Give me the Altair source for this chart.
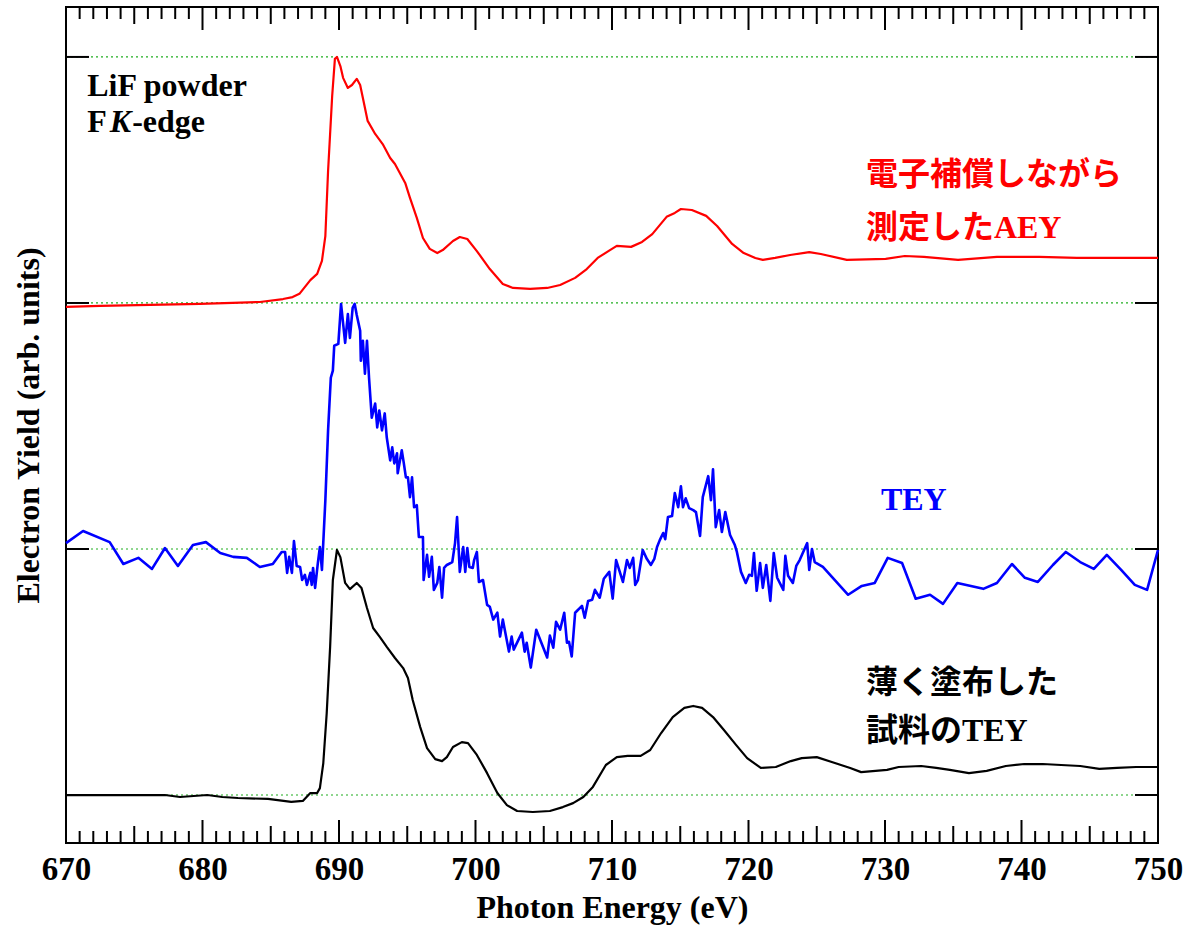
import altair as alt
import pandas as pd

# ---------------- data ----------------
# AEY (red), normalised 0..1, drawn with offset 2
red_ev = [670.0, 672.5, 676.15, 679.8, 682.2, 684.2, 685.9, 686.6, 687.1, 687.9,
          688.4, 688.75, 689.0, 689.2, 689.5, 689.7, 689.85, 690.1, 690.3, 690.65,
          690.95, 691.3, 691.55, 691.75, 692.1, 692.65, 693.2, 693.75, 694.1, 694.85,
          695.2, 695.7, 696.15, 696.65, 697.2, 697.6, 698.35, 698.85, 699.4, 700.1,
          701.05, 702.0, 702.75, 704.0, 705.25, 706.2, 707.3, 708.15, 708.95, 709.85,
          710.35, 711.4, 712.2, 712.95, 714.0, 714.6, 715.05, 715.85, 716.9, 717.7,
          718.8, 719.65, 720.5, 721.05, 721.95, 723.05, 724.45, 725.3, 727.2, 730.05,
          731.45, 732.85, 735.35, 738.2, 741.3, 744.05, 746.6, 750.0]
red_val = [-0.016, -0.012, -0.008, -0.004, 0.0, 0.004, 0.016, 0.024, 0.037, 0.093,
           0.118, 0.171, 0.272, 0.537, 0.841, 0.992, 1.0, 0.963, 0.915, 0.874,
           0.886, 0.911, 0.886, 0.833, 0.740, 0.687, 0.646, 0.589, 0.565, 0.488,
           0.427, 0.346, 0.264, 0.220, 0.203, 0.215, 0.252, 0.268, 0.260, 0.211,
           0.138, 0.077, 0.061, 0.057, 0.061, 0.073, 0.102, 0.138, 0.183, 0.215,
           0.232, 0.228, 0.248, 0.280, 0.350, 0.366, 0.382, 0.378, 0.354, 0.313,
           0.240, 0.203, 0.183, 0.175, 0.183, 0.195, 0.207, 0.199, 0.175, 0.179,
           0.191, 0.187, 0.175, 0.187, 0.187, 0.183, 0.183, 0.183]

# TEY (blue), offset 1
blue_ev = [670.0, 671.25, 673.2, 674.2, 675.3, 676.3, 677.25, 678.2, 679.3, 680.25,
           681.3, 682.25, 683.25, 684.2, 685.15, 685.8, 686.05, 686.2, 686.35, 686.55,
           686.7, 686.9, 687.15, 687.3, 687.5, 687.65, 687.9, 688.0, 688.1, 688.25,
           688.45, 688.6, 688.75, 689.0, 689.2, 689.4, 689.55, 689.65, 689.95, 690.15,
           690.45, 690.65, 690.8, 691.0, 691.15, 691.3, 691.55, 691.6, 691.75, 691.9,
           692.05, 692.2, 692.4, 692.65, 692.8, 692.95, 693.15, 693.35, 693.5, 693.75,
           693.9, 694.05, 694.25, 694.3, 694.6, 694.75, 694.9, 695.05, 695.2, 695.35,
           695.5, 695.7, 695.85, 696.15, 696.2, 696.45, 696.6, 696.8, 696.95, 697.2,
           697.35, 697.55, 697.7, 697.9, 698.3, 698.5, 698.65, 698.85, 699.1, 699.25,
           699.4, 699.55, 699.8, 699.9, 700.1, 700.25, 700.55, 700.85, 701.05, 701.3,
           701.6, 701.8, 702.0, 702.45, 702.65, 702.8, 703.4, 703.6, 703.75, 704.05,
           704.45, 705.25, 705.45, 705.7, 705.9, 706.2, 706.5, 706.7, 706.85, 707.05,
           707.3, 707.8, 708.0, 708.25, 708.55, 708.75, 709.1, 709.4, 709.8, 710.05,
           710.3, 710.8, 711.1, 711.3, 711.55, 711.7, 711.9, 712.25, 712.55, 712.85,
           713.1, 713.3, 713.5, 713.75, 713.9, 714.1, 714.4, 714.6, 714.85, 715.05,
           715.2, 715.4, 715.65, 715.95, 716.15, 716.45, 716.65, 717.05, 717.25, 717.4,
           717.6, 717.85, 718.05, 718.3, 718.65, 719.0, 719.15, 719.45, 719.8, 720.05,
           720.25, 720.4, 720.6, 720.85, 721.05, 721.3, 721.6, 721.85, 722.1, 722.55,
           722.7, 722.9, 723.25, 723.5, 723.75, 724.3, 724.45, 724.65, 724.85, 725.45,
           727.3, 728.3, 729.25, 730.2, 731.25, 732.25, 733.3, 734.25, 735.3, 737.2,
           738.2, 739.3, 740.25, 741.2, 742.3, 743.25, 744.3, 745.3, 746.25, 747.3,
           748.3, 749.2, 750.0]
blue_val = [0.024, 0.073, 0.028, -0.061, -0.036, -0.081, 0.004, -0.069, 0.016, 0.028,
            -0.016, -0.032, -0.036, -0.073, -0.061, -0.012, -0.012, -0.097, -0.032, -0.097,
            0.032, -0.069, -0.073, -0.126, -0.105, -0.146, -0.097, -0.146, -0.077, -0.158,
            -0.057, 0.008, -0.085, 0.198, 0.482, 0.696, 0.725, 0.826, 0.834, 0.996,
            0.838, 0.955, 0.858, 0.980, 0.996, 0.951, 0.887, 0.765, 0.846, 0.713,
            0.846, 0.696, 0.534, 0.591, 0.494, 0.563, 0.482, 0.551, 0.453, 0.360,
            0.413, 0.348, 0.389, 0.308, 0.401, 0.348, 0.291, 0.291, 0.211, 0.291,
            0.170, 0.178, 0.049, 0.049, -0.126, -0.024, -0.113, -0.032, -0.166, -0.138,
            -0.073, -0.198, -0.077, -0.065, -0.053, 0.024, 0.130, -0.093, 0.008, -0.093,
            0.004, -0.073, -0.077, -0.045, -0.012, -0.134, -0.126, -0.227, -0.235, -0.287,
            -0.259, -0.356, -0.287, -0.417, -0.356, -0.409, -0.340, -0.417, -0.381, -0.482,
            -0.328, -0.441, -0.352, -0.401, -0.296, -0.328, -0.259, -0.381, -0.377, -0.437,
            -0.259, -0.231, -0.279, -0.211, -0.206, -0.166, -0.198, -0.121, -0.093, -0.202,
            -0.045, -0.134, -0.045, -0.077, -0.036, -0.146, -0.126, -0.004, -0.040, -0.065,
            -0.040, 0.008, 0.036, 0.065, 0.040, 0.130, 0.134, 0.227, 0.170, 0.255,
            0.170, 0.206, 0.166, 0.158, 0.150, 0.053, 0.211, 0.296, 0.198, 0.324,
            0.089, 0.158, 0.069, 0.150, 0.057, 0.016, -0.012, -0.093, -0.138, -0.105,
            -0.109, -0.016, -0.170, -0.057, -0.158, -0.065, -0.211, -0.016, -0.117, -0.166,
            -0.028, -0.109, -0.138, -0.069, -0.045, 0.024, -0.085, 0.0, -0.053, -0.073,
            -0.186, -0.150, -0.138, -0.036, -0.057, -0.202, -0.186, -0.223, -0.138, -0.162,
            -0.138, -0.061, -0.117, -0.134, -0.065, -0.012, -0.053, -0.081, -0.024, -0.085,
            -0.146, -0.166, -0.004]

# TEY of thinly coated sample (black), offset 0
black_ev = [670.0, 673.6, 675.85, 677.25, 678.35, 680.35, 681.45, 682.6, 684.8, 686.5,
            687.35, 687.9, 688.4, 688.6, 688.85, 689.1, 689.35, 689.55, 689.85, 690.1,
            690.45, 690.8, 691.3, 691.65, 692.05, 692.5, 693.0, 693.5, 694.1, 694.7,
            695.05, 695.4, 695.95, 696.45, 697.05, 697.55, 697.9, 698.35, 699.0, 699.45,
            700.1, 700.85, 701.6, 702.3, 703.05, 704.2, 705.45, 706.4, 707.15, 707.9,
            708.6, 709.55, 710.35, 711.15, 712.1, 712.8, 713.6, 714.45, 715.3, 715.95,
            716.6, 717.4, 718.2, 719.1, 719.9, 720.9, 722.0, 723.1, 723.9, 725.0,
            726.1, 727.45, 728.25, 730.15, 731.0, 732.65, 733.75, 734.75, 736.15, 737.45,
            738.85, 740.2, 741.55, 742.9, 744.3, 745.7, 747.0, 748.4, 750.0]
black_val = [0.0, 0.0, 0.0, 0.0, -0.008, 0.0, -0.008, -0.012, -0.016, -0.028,
             -0.024, 0.008, 0.008, 0.028, 0.130, 0.333, 0.602, 0.874, 0.996, 0.967,
             0.862, 0.837, 0.862, 0.841, 0.760, 0.679, 0.642, 0.602, 0.557, 0.516,
             0.476, 0.386, 0.276, 0.191, 0.146, 0.138, 0.154, 0.195, 0.215, 0.211,
             0.163, 0.089, 0.008, -0.041, -0.065, -0.069, -0.065, -0.049, -0.033, -0.008,
             0.033, 0.122, 0.154, 0.159, 0.159, 0.183, 0.252, 0.317, 0.354, 0.362,
             0.354, 0.317, 0.264, 0.203, 0.150, 0.110, 0.114, 0.138, 0.150, 0.154,
             0.134, 0.110, 0.093, 0.102, 0.114, 0.118, 0.110, 0.102, 0.089, 0.098,
             0.118, 0.126, 0.126, 0.122, 0.118, 0.106, 0.110, 0.114, 0.114]

offsets = {"black": 0, "blue": 1, "red": 2}
baselines = [0, 1, 2, 3]
x_labels = [670, 680, 690, 700, 710, 720, 730, 740, 750]
minor_ticks = [v for v in range(670, 751) if v % 5 != 0]
mid_ticks = [v for v in range(670, 751) if v % 5 == 0 and v % 10 != 0]
major_ticks = [v for v in range(670, 751) if v % 10 == 0]

# annotation texts
ann_black = {"text": ["LiF powder", "F", "-edge", "薄く塗布した", "試料のTEY"],
             "x": [671.55, 671.55, 674.85, 728.6, 728.6],
             "y": [2.882, 2.736, 2.736, 0.455, 0.26]}
ann_italic = {"text": ["K"], "x": [673.2], "y": [2.736]}
ann_red = {"text": ["電子補償しながら", "測定したAEY"], "x": [728.6, 728.6], "y": [2.52, 2.305]}
ann_blue = {"text": ["TEY"], "x": [729.7], "y": [1.199]}

# ---------------- chart ----------------
W, H = 1092, 836
SERIF = "Liberation Serif"
JP = "Liberation Serif, Noto Sans CJK JP"

xs = alt.Scale(domain=[670, 750], nice=False, zero=False)
ys = alt.Scale(domain=[-0.195, 3.203], nice=False, zero=False)

x_axis = alt.Axis(values=x_labels, format="d", ticks=False, domain=False, grid=False,
                  labelFlush=False, labelOverlap=False, labelBound=False,
                  labelFont=SERIF, labelFontSize=33, labelFontWeight="bold",
                  labelColor="black", labelPadding=10,
                  title="Photon Energy (eV)", titleFont=SERIF, titleFontSize=32,
                  titleFontWeight="bold", titleColor="black", titlePadding=6)
y_axis = alt.Axis(labels=False, ticks=False, domain=False, grid=False,
                  title="Electron Yield (arb. units)", titleFont=SERIF, titleFontSize=32,
                  titleFontWeight="bold", titleColor="black", titlePadding=21)


def series(ev, val, off):
    return pd.DataFrame({"ev": ev, "y": [v + off for v in val]})


base_x = alt.X("ev:Q", scale=xs, axis=x_axis)
base_y = alt.Y("y:Q", scale=ys, axis=y_axis)

dotted = alt.Chart(pd.DataFrame({"y": baselines})).mark_rule(
    color="#1fae1f", strokeWidth=1.2, strokeDash=[2, 3]
).encode(y=alt.Y("y:Q", scale=ys, axis=y_axis))


def line(ev, val, off, color, width):
    return alt.Chart(series(ev, val, off)).mark_line(
        color=color, strokeWidth=width, strokeJoin="round"
    ).encode(x=base_x, y=base_y)


black_line = line(black_ev, black_val, offsets["black"], "black", 2.2)
blue_line = line(blue_ev, blue_val, offsets["blue"], "#0000ff", 2.6)
red_line = line(red_ev, red_val, offsets["red"], "#ff0000", 2.2)


def xticks(vals, length):
    df = pd.DataFrame({"ev": vals})
    bottom = alt.Chart(df).mark_rule(color="black", strokeWidth=2).encode(
        x=base_x, y=alt.value(H), y2=alt.value(H - length))
    top = alt.Chart(df).mark_rule(color="black", strokeWidth=2).encode(
        x=base_x, y=alt.value(0), y2=alt.value(length))
    return bottom + top


ydf = pd.DataFrame({"y": baselines})
yticks_left = alt.Chart(ydf).mark_rule(color="black", strokeWidth=2).encode(
    y=base_y, x=alt.value(0), x2=alt.value(23))
yticks_right = alt.Chart(ydf).mark_rule(color="black", strokeWidth=2).encode(
    y=base_y, x=alt.value(W), x2=alt.value(W - 23))


def texts(d, color, font, style="normal", size=32):
    return alt.Chart(pd.DataFrame(d)).mark_text(
        align="left", baseline="middle", font=font, fontSize=size,
        fontWeight="bold", fontStyle=style, color=color
    ).encode(x=alt.X("x:Q", scale=xs, axis=x_axis),
             y=alt.Y("y:Q", scale=ys, axis=y_axis), text="text:N")


layers = [
    dotted,
    black_line, blue_line, red_line,
    xticks(minor_ticks, 12), xticks(mid_ticks, 17), xticks(major_ticks, 23),
    yticks_left, yticks_right,
    texts(ann_black, "black", JP),
    texts(ann_italic, "black", SERIF, style="italic"),
    texts(ann_red, "#ff0000", JP),
    texts(ann_blue, "#0000ff", SERIF),
]

chart = alt.layer(*layers).properties(
    width=W, height=H,
    autosize=alt.AutoSizeParams(type="none"),
    padding={"left": 66, "top": 7, "right": 40, "bottom": 86},
    background="white",
).configure_view(stroke="black", strokeWidth=2)

chart.save("out.html", embed_options={"renderer": "svg", "actions": False})
